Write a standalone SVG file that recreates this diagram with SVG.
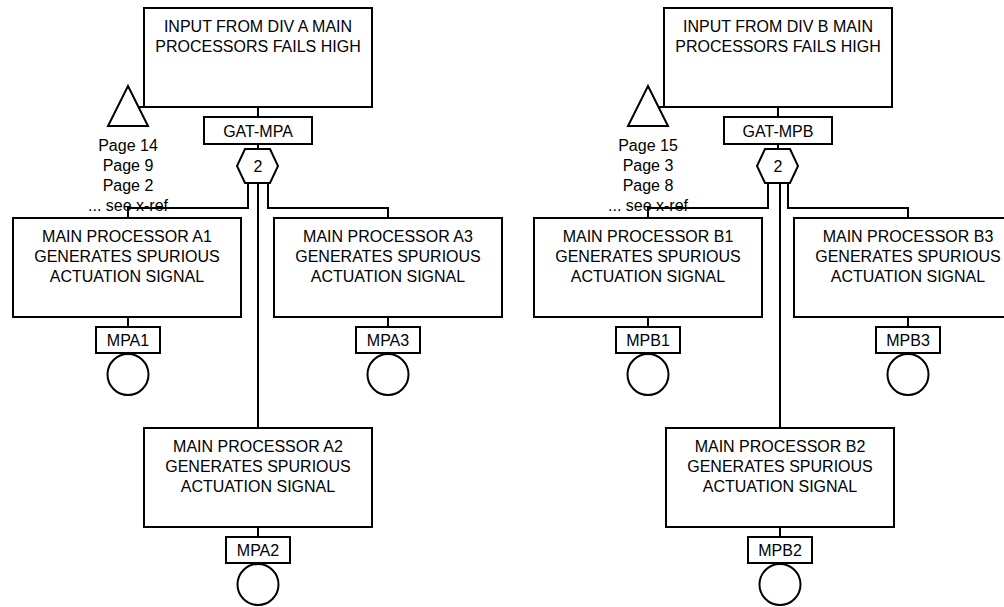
<svg xmlns="http://www.w3.org/2000/svg" width="1004" height="607" viewBox="0 0 1004 607">
<style>
.b{fill:#fff;stroke:#000;stroke-width:2}
.l{fill:none;stroke:#000;stroke-width:2}
text{font-family:"Liberation Sans",Arial,sans-serif;font-size:16px;fill:#000;text-anchor:middle}
</style>
<rect width="1004" height="607" fill="#fff"/>
<g id="connectors">
<path class="l" d="M258 107V117M258 144V149M248 183V208H128V218M268 183V208H388V218M258 183V428M128 317V327M388 317V327M258 527V537M138.5 107H144"/>
<path class="l" d="M778 107V117M778 144V149M768 183V208H648V218M788 183V208H908V218M780 183V428M648 317V327M908 317V327M780 527V537M658.5 107H664"/>
</g>
<g id="top-a"><rect class="b" x="144" y="8" width="228" height="99"/><text x="258" y="32">INPUT FROM DIV A MAIN</text><text x="258" y="52">PROCESSORS FAILS HIGH</text></g>
<g id="xref-a"><polygon class="b" points="128,86 148,126 108,126"/><text x="128" y="151">Page 14</text><text x="128" y="171">Page 9</text><text x="128" y="191">Page 2</text><text x="128" y="211">... see x-ref</text></g>
<g id="gat-mpa"><rect class="b" x="204" y="117" width="108" height="27"/><text x="258" y="136.5">GAT-MPA</text></g>
<g id="vote-a"><polygon class="b" points="245,149 270,149 278,166 270,183 245,183 237,166"/><text x="258" y="171.5">2</text></g>
<g id="a1"><rect class="b" x="13" y="218" width="228" height="99"/><text x="127" y="242">MAIN PROCESSOR A1</text><text x="127" y="262">GENERATES SPURIOUS</text><text x="127" y="282">ACTUATION SIGNAL</text><rect class="b" x="96" y="327" width="64" height="26"/><text x="128" y="346">MPA1</text><circle class="b" cx="128" cy="374.5" r="20.5"/></g>
<g id="a3"><rect class="b" x="274" y="218" width="228" height="99"/><text x="388" y="242">MAIN PROCESSOR A3</text><text x="388" y="262">GENERATES SPURIOUS</text><text x="388" y="282">ACTUATION SIGNAL</text><rect class="b" x="356" y="327" width="64" height="26"/><text x="388" y="346">MPA3</text><circle class="b" cx="388" cy="374.5" r="20.5"/></g>
<g id="a2"><rect class="b" x="144" y="428" width="228" height="99"/><text x="258" y="452">MAIN PROCESSOR A2</text><text x="258" y="472">GENERATES SPURIOUS</text><text x="258" y="492">ACTUATION SIGNAL</text><rect class="b" x="226" y="537" width="64" height="26"/><text x="258" y="556">MPA2</text><circle class="b" cx="258" cy="584.5" r="20.5"/></g>
<g id="top-b"><rect class="b" x="664" y="8" width="228" height="99"/><text x="778" y="32">INPUT FROM DIV B MAIN</text><text x="778" y="52">PROCESSORS FAILS HIGH</text></g>
<g id="xref-b"><polygon class="b" points="648,86 668,126 628,126"/><text x="648" y="151">Page 15</text><text x="648" y="171">Page 3</text><text x="648" y="191">Page 8</text><text x="648" y="211">... see x-ref</text></g>
<g id="gat-mpb"><rect class="b" x="724" y="117" width="108" height="27"/><text x="778" y="136.5">GAT-MPB</text></g>
<g id="vote-b"><polygon class="b" points="765,149 790,149 798,166 790,183 765,183 757,166"/><text x="778" y="171.5">2</text></g>
<g id="b1"><rect class="b" x="534" y="218" width="228" height="99"/><text x="648" y="242">MAIN PROCESSOR B1</text><text x="648" y="262">GENERATES SPURIOUS</text><text x="648" y="282">ACTUATION SIGNAL</text><rect class="b" x="616" y="327" width="64" height="26"/><text x="648" y="346">MPB1</text><circle class="b" cx="648" cy="374.5" r="20.5"/></g>
<g id="b3"><rect class="b" x="794" y="218" width="228" height="99"/><text x="908" y="242">MAIN PROCESSOR B3</text><text x="908" y="262">GENERATES SPURIOUS</text><text x="908" y="282">ACTUATION SIGNAL</text><rect class="b" x="876" y="327" width="64" height="26"/><text x="908" y="346">MPB3</text><circle class="b" cx="908" cy="374.5" r="20.5"/></g>
<g id="b2"><rect class="b" x="666" y="428" width="228" height="99"/><text x="780" y="452">MAIN PROCESSOR B2</text><text x="780" y="472">GENERATES SPURIOUS</text><text x="780" y="492">ACTUATION SIGNAL</text><rect class="b" x="748" y="537" width="64" height="26"/><text x="780" y="556">MPB2</text><circle class="b" cx="780" cy="584.5" r="20.5"/></g>
</svg>
